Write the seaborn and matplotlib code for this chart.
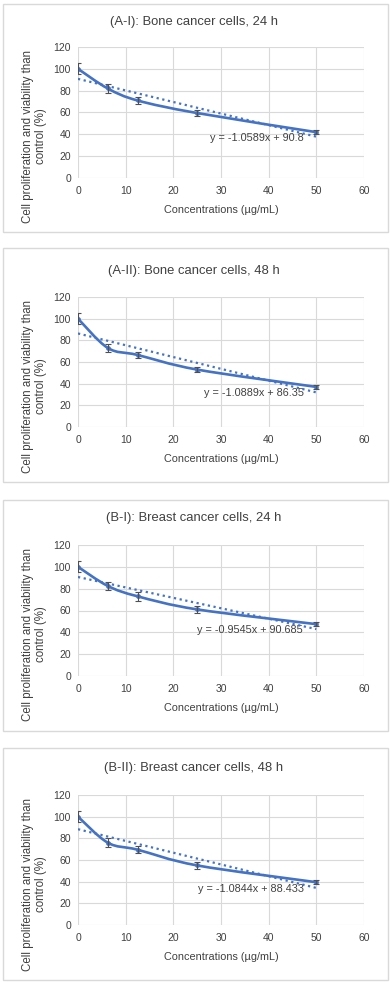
import numpy as np
import matplotlib
matplotlib.use("Agg")
import matplotlib.pyplot as plt
from matplotlib.path import Path
from matplotlib.patches import PathPatch, Rectangle
import seaborn as sns

sns.set_theme(style="white")
plt.rcParams['font.family'] = ['Liberation Sans', 'DejaVu Sans']

# ---------------- data ----------------
conc = [0, 6.25, 12.5, 25, 50]
titles = ["(A-I): Bone cancer cells, 24 h",
          "(A-II): Bone cancer cells, 48 h",
          "(B-I): Breast cancer cells, 24 h",
          "(B-II): Breast cancer cells, 48 h"]
viab_AI = [100, 82, 71, 59.5, 42]
viab_AII = [100, 73, 66.5, 53, 37]
viab_BI = [100, 82.5, 73, 61, 47.5]
viab_BII = [100, 76, 69.5, 55, 39.5]
err_AI = [5, 4.5, 3.5, 3, 2]
err_AII = [5, 4, 3, 2.5, 2]
err_BI = [5, 4, 4, 3, 2]
err_BII = [5, 4, 3, 3, 2]
slopes = [-1.0589, -1.0889, -0.9545, -1.0844]
intercepts = [90.8, 86.35, 90.685, 88.433]
eq_labels = ["y = -1.0589x + 90.8", "y = -1.0889x + 86.35",
             "y = -0.9545x + 90.685", "y = -1.0844x + 88.433"]
eq_pos = [(27.7, 36.6), (26.4, 31.7), (25.0, 42.0), (25.2, 33.2)]
xticks = [0, 10, 20, 30, 40, 50, 60]
yticks = [0, 20, 40, 60, 80, 100, 120]

viabs = [viab_AI, viab_AII, viab_BI, viab_BII]
errs = [err_AI, err_AII, err_BI, err_BII]

W, H = 390, 982
fig = plt.figure(figsize=(W / 100, H / 100), dpi=100)

# layout in pixels (top-left origin)
boxes = [(4, 232), (248, 482), (500, 731), (748, 980)]
axes_y = [(47, 178), (297, 427), (545, 676), (795, 925)]
title_y = [22, 271, 518, 768]
ax_left, ax_right = 78, 364

BLUE = "#4472C4"
TXT = "#404040"


def smooth_path(xs, ys):
    xs = np.asarray(xs, float)
    ys = np.asarray(ys, float)
    n = len(xs)
    verts = [(xs[0], ys[0])]
    codes = [Path.MOVETO]
    for i in range(n - 1):
        p0 = np.array([xs[max(i - 1, 0)], ys[max(i - 1, 0)]])
        p1 = np.array([xs[i], ys[i]])
        p2 = np.array([xs[i + 1], ys[i + 1]])
        p3 = np.array([xs[min(i + 2, n - 1)], ys[min(i + 2, n - 1)]])
        c1 = p1 + (p2 - p0) / 6.0
        c2 = p2 - (p3 - p1) / 6.0
        verts += [tuple(c1), tuple(c2), tuple(p2)]
        codes += [Path.CURVE4] * 3
    return Path(verts, codes)


for k in range(4):
    by0, by1 = boxes[k]
    fig.patches.append(Rectangle((3 / W, 1 - by1 / H), (388 - 3) / W, (by1 - by0) / H,
                                 transform=fig.transFigure, fill=False,
                                 edgecolor="#D9D9D9", lw=1.0))
    y0, y1 = axes_y[k]
    ah = y1 - y0
    aw = ax_right - ax_left
    ax = fig.add_axes([ax_left / W, 1 - y1 / H, aw / W, ah / H])
    ax.set_xlim(0, 60)
    ax.set_ylim(0, 120)
    ax.set_xticks(xticks)
    ax.set_yticks(yticks)
    ax.grid(True, color="#D9D9D9", lw=0.8)
    for s in ax.spines.values():
        s.set_visible(False)
    ax.tick_params(axis="both", length=0, labelsize=7.5, colors=TXT)
    ax.tick_params(axis="x", pad=6)
    ax.tick_params(axis="y", pad=5)

    # trendline
    tx = [conc[0], conc[-1]]
    ty = [slopes[k] * v + intercepts[k] for v in tx]
    sns.lineplot(x=tx, y=ty, ax=ax, color=BLUE, lw=1.6, linestyle=(0, (1, 1.6)), zorder=3)

    # smoothed data line
    ax.add_patch(PathPatch(smooth_path(conc, viabs[k]), fill=False, edgecolor=BLUE,
                           lw=1.9, zorder=4, capstyle="round"))
    sns.scatterplot(x=conc, y=viabs[k], ax=ax, color=BLUE, s=10, edgecolor=BLUE, zorder=5)
    ax.errorbar(conc, viabs[k], yerr=errs[k], fmt="none", ecolor="#505050",
                elinewidth=0.8, capsize=2.5, capthick=0.8, zorder=6)

    ax.text(eq_pos[k][0], eq_pos[k][1], eq_labels[k], fontsize=7.8, color=TXT,
            va="center", ha="left", zorder=2)

    ax.set_xlabel("Concentrations (µg/mL)", fontsize=7.8, color=TXT, labelpad=6)
    ax.text((34.5 - ax_left) / aw, 1 - 89.5 / ah,
            "Cell proliferation and viability than\ncontrol (%)", transform=ax.transAxes,
            rotation=90, ha="center", va="center", fontsize=8.3, color=TXT,
            linespacing=1.05)
    fig.text(194 / W, 1 - title_y[k] / H, titles[k], fontsize=9.4, color=TXT,
             ha="center", va="center")

fig.savefig("out.png", dpi=100)
